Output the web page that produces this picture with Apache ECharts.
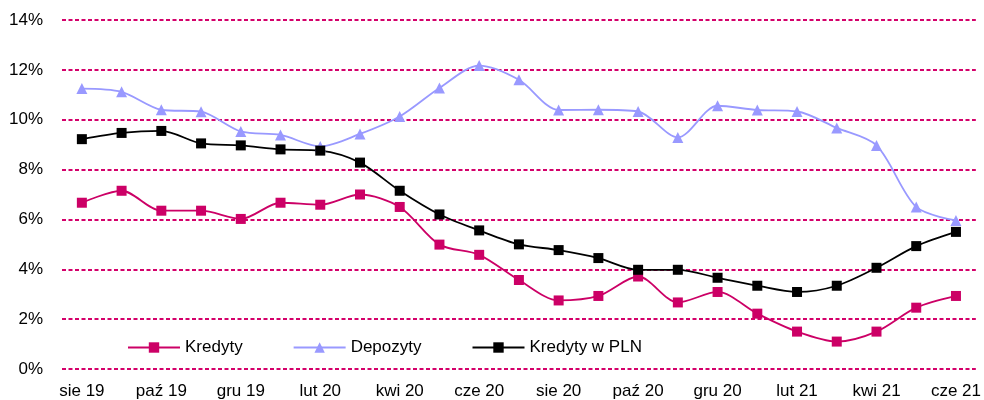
<!DOCTYPE html>
<html>
<head>
<meta charset="utf-8">
<script src="https://cdn.jsdelivr.net/npm/echarts@6/dist/echarts.min.js"></script>
<style>
	html, body { margin: 0; padding: 0; background: #fff; }
	#chart { width: 984px; height: 400px; }
</style>
</head>
<body>
<div id="chart"></div>
<script>
var months = ['sie 19', 'wrz 19', 'paź 19', 'lis 19', 'gru 19', 'sty 20', 'lut 20', 'mar 20',
	'kwi 20', 'maj 20', 'cze 20', 'lip 20', 'sie 20', 'wrz 20', 'paź 20', 'lis 20',
	'gru 20', 'sty 21', 'lut 21', 'mar 21', 'kwi 21', 'maj 21', 'cze 21'];

// dynamika r/r, %
var kredyty = [6.67, 7.15, 6.35, 6.35, 6.02, 6.67, 6.59, 7.0, 6.5, 4.99, 4.58, 3.57,
	2.75, 2.93, 3.71, 2.67, 3.09, 2.22, 1.5, 1.1, 1.5, 2.46, 2.93];
var depozyty = [11.25, 11.12, 10.4, 10.32, 9.53, 9.39, 8.93, 9.43, 10.13, 11.27, 12.17, 11.6,
	10.39, 10.4, 10.33, 9.29, 10.56, 10.39, 10.33, 9.67, 8.97, 6.5, 5.96];
var kredytyPln = [9.22, 9.47, 9.55, 9.05, 8.97, 8.81, 8.76, 8.28, 7.15, 6.2, 5.56, 5.0,
	4.77, 4.45, 3.98, 3.98, 3.66, 3.34, 3.09, 3.34, 4.06, 4.93, 5.5];

var chart = echarts.init(document.getElementById('chart'));
var font = 'Liberation Sans, Arial, sans-serif';

function line(name, data, color, symbol, size) {
	return {
		name: name,
		type: 'line',
		data: data,
		smooth: 0.3,
		symbol: symbol,
		symbolSize: size,
		showSymbol: true,
		lineStyle: { color: color, width: 1.8 },
		itemStyle: { color: color, borderWidth: 0 },
		emphasis: { disabled: true }
	};
}

chart.setOption({
	animation: false,
	textStyle: { fontFamily: font },
	grid: { left: 62, right: 8, top: 20, bottom: 31, containLabel: false },
	legend: {
		left: 122,
		top: 334,
		itemWidth: 52,
		itemHeight: 13,
		itemGap: 50,
		textStyle: { fontFamily: font, fontSize: 17, color: '#000' },
		data: ['Kredyty', 'Depozyty', 'Kredyty w PLN']
	},
	xAxis: {
		type: 'category',
		data: months,
		boundaryGap: true,
		axisLine: { show: false },
		axisTick: { show: false },
		axisLabel: { interval: 1, color: '#000', fontSize: 17, fontFamily: font, margin: 14 }
	},
	yAxis: {
		type: 'value',
		min: 0,
		max: 14,
		interval: 2,
		axisLine: { show: false },
		axisTick: { show: false },
		axisLabel: {
			color: '#000', fontSize: 17, fontFamily: font, margin: 19,
			formatter: function (v) { return v + '%'; }
		},
		splitLine: {
			show: true,
			lineStyle: { color: '#D4006A', width: 2, type: [4, 2.5] }
		}
	},
	series: [
		line('Kredyty', kredyty, '#CC0066', 'rect', 10),
		line('Depozyty', depozyty, '#9999FF', 'triangle', 11),
		line('Kredyty w PLN', kredytyPln, '#000000', 'rect', 10)
	]
});
</script>
</body>
</html>
